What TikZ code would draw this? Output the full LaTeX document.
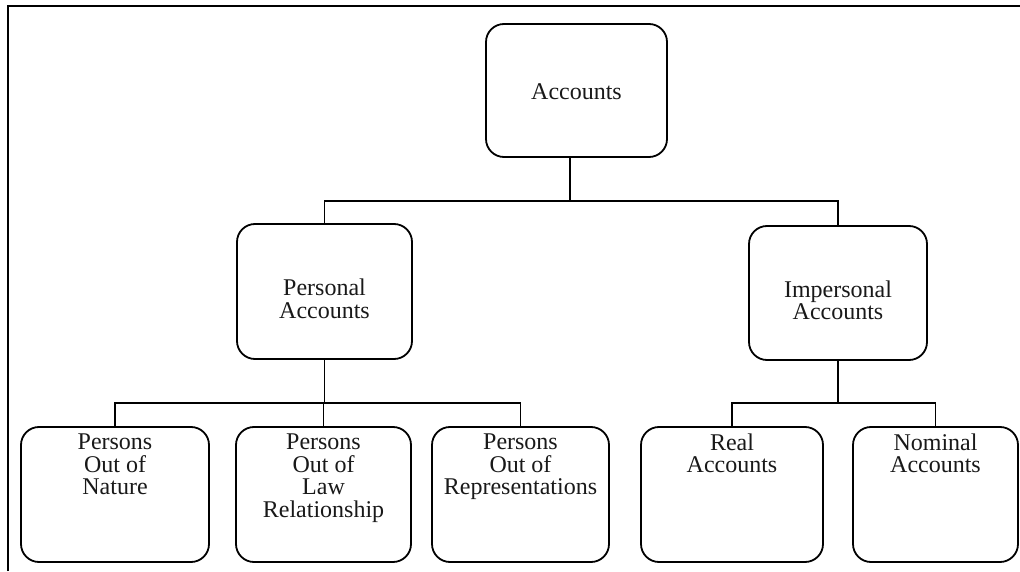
\documentclass[tikz,border=0pt]{standalone}
\usepackage{fontspec}
\setmainfont{Liberation Serif}
\begin{document}
\begin{tikzpicture}[x=1pt,y=1pt,
  box/.style={draw, line width=1.8pt, rounded corners=18pt, inner sep=0pt, minimum height=134pt},
  lbl/.style={align=center, inner sep=0pt, font=\fontsize{24}{22.5}\selectfont, text=black!90},
  conn/.style={line width=1.8pt}]
\useasboundingbox (0,0) rectangle (1020,571);
\fill[white] (0,0) rectangle (1020,571);
% frame
\draw[conn] (8,0) -- (8,565) -- (1021,565);
% boxes
\node[box, minimum width=181pt, minimum height=133pt] (acc) at (576.5,480.5) {};
\node[box, minimum width=175pt, minimum height=135pt] (pers) at (324.5,279.5) {};
\node[box, minimum width=178pt] (imp) at (838,278) {};
\node[box, minimum width=188pt, minimum height=135pt] (nat) at (115,76.5) {};
\node[box, minimum width=175pt, minimum height=135pt] (law) at (323.5,76.5) {};
\node[box, minimum width=177pt, minimum height=135pt] (rep) at (520.5,76.5) {};
\node[box, minimum width=182pt, minimum height=135pt] (real) at (732,76.5) {};
\node[box, minimum width=165pt, minimum height=135pt] (nom) at (935.5,76.5) {};
% labels
\node[lbl, anchor=base] (acct) at ([yshift=-9.5pt]acc.center) {Accounts};
\node[lbl, anchor=north] (perst) at ([yshift=12.5pt]pers.center) {Personal\\Accounts};
\node[lbl, anchor=north] (impt) at ([yshift=12.5pt]imp.center) {Impersonal\\Accounts};
\node[lbl, anchor=north] (natt) at ([yshift=-7.5pt]nat.north) {Persons\\Out of\\Nature};
\node[lbl, anchor=north] (lawt) at ([yshift=-7.5pt]law.north) {Persons\\Out of\\Law\\Relationship};
\node[lbl, anchor=north] (rept) at ([yshift=-7.5pt]rep.north) {Persons\\Out of\\Representations};
\node[lbl, anchor=north] (realt) at ([yshift=-7.5pt]real.north) {Real\\Accounts};
\node[lbl, anchor=north] (nomt) at ([yshift=-7.5pt]nom.north) {Nominal\\Accounts};
% connectors
\coordinate (j1) at (570,370);
\coordinate (j2) at (324.5,168);
\coordinate (j3) at (838,168);
\draw[conn] ([xshift=-6.5pt]acc.south) -- (j1);
\draw[conn] (pers.north) |- (j1) -| (imp.north);
\draw[conn] (pers.south) -- (j2);
\draw[conn] (nat.north) |- (j2) -| (rep.north);
\draw[conn] (law.north) -- (law.north |- j2);
\draw[conn] (imp.south) -- (j3);
\draw[conn] (real.north) |- (j3) -| (nom.north);
\end{tikzpicture}
\end{document}
